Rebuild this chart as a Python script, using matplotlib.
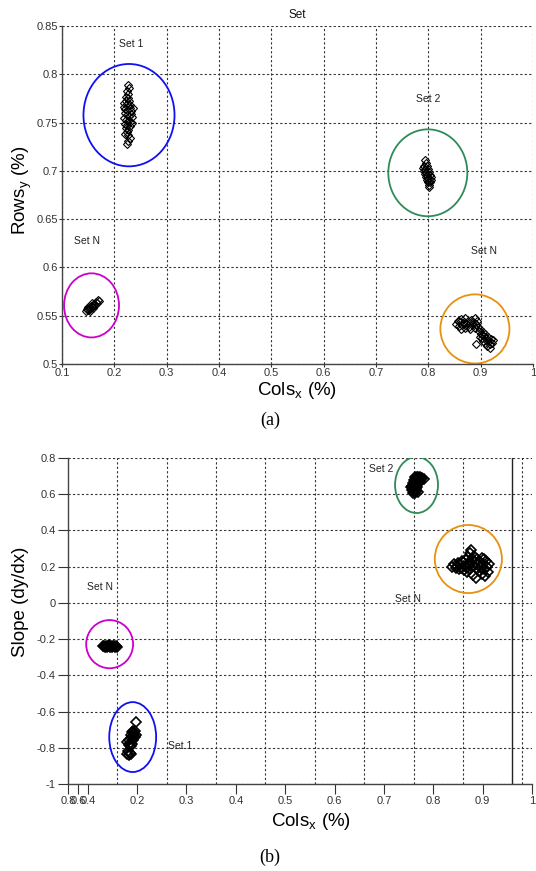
import matplotlib
matplotlib.use("Agg")
import matplotlib.pyplot as plt
from matplotlib.patches import Ellipse

plt.rcParams['font.family'] = ['Liberation Sans', 'DejaVu Sans']
plt.rcParams['mathtext.fontset'] = 'custom'
plt.rcParams['mathtext.rm'] = 'Liberation Sans'

# ---------------- Panel (a) data ----------------
a_set1_x = [0.226, 0.228, 0.225, 0.227, 0.223, 0.226, 0.222, 0.219, 0.224, 0.228, 0.230,
            0.218, 0.221, 0.225, 0.229, 0.232, 0.236, 0.220, 0.224, 0.228, 0.231, 0.234,
            0.219, 0.222, 0.226, 0.230, 0.233, 0.221, 0.225, 0.229, 0.223, 0.227, 0.224,
            0.221, 0.226, 0.229, 0.227, 0.225]
a_set1_y = [0.789, 0.786, 0.783, 0.780, 0.777, 0.775, 0.772, 0.770, 0.769, 0.772, 0.768,
            0.766, 0.764, 0.763, 0.765, 0.762, 0.765, 0.760, 0.758, 0.757, 0.759, 0.756,
            0.755, 0.753, 0.752, 0.751, 0.750, 0.749, 0.747, 0.746, 0.744, 0.742, 0.740,
            0.738, 0.737, 0.734, 0.731, 0.728]

a_set2_x = [0.793, 0.795, 0.792, 0.797, 0.794, 0.799, 0.791, 0.796, 0.801, 0.793, 0.798,
            0.803, 0.795, 0.800, 0.805, 0.797, 0.802, 0.799, 0.804, 0.801, 0.802, 0.790, 0.806]
a_set2_y = [0.711, 0.708, 0.705, 0.705, 0.702, 0.702, 0.700, 0.699, 0.699, 0.697, 0.696,
            0.696, 0.694, 0.693, 0.694, 0.691, 0.690, 0.688, 0.688, 0.685, 0.683, 0.703, 0.691]

a_setn_r_x = [0.853, 0.856, 0.858, 0.861, 0.863, 0.865, 0.868, 0.870, 0.872, 0.875, 0.877,
              0.879, 0.882, 0.884, 0.886, 0.889, 0.891, 0.893, 0.880, 0.871, 0.862,
              0.890, 0.894, 0.896, 0.899, 0.901, 0.904, 0.906, 0.903, 0.908, 0.910, 0.912,
              0.909, 0.914, 0.916, 0.918, 0.920, 0.922, 0.924, 0.913, 0.917, 0.892, 0.898, 0.905]
a_setn_r_y = [0.541, 0.545, 0.539, 0.543, 0.547, 0.540, 0.544, 0.548, 0.541, 0.545, 0.538,
              0.542, 0.546, 0.540, 0.544, 0.548, 0.541, 0.545, 0.536, 0.537, 0.536,
              0.537, 0.538, 0.534, 0.536, 0.531, 0.533, 0.529, 0.527, 0.531, 0.527, 0.524,
              0.522, 0.528, 0.524, 0.521, 0.526, 0.522, 0.525, 0.519, 0.517, 0.521, 0.528, 0.524]

a_setn_l_x = [0.146, 0.148, 0.150, 0.152, 0.149, 0.154, 0.155, 0.157, 0.159, 0.158, 0.161,
              0.163, 0.164, 0.166, 0.168, 0.170, 0.153, 0.160]
a_setn_l_y = [0.555, 0.557, 0.556, 0.558, 0.559, 0.557, 0.560, 0.559, 0.561, 0.563, 0.562,
              0.561, 0.564, 0.563, 0.566, 0.565, 0.555, 0.558]

# ellipses (cx, cy, width, height)
a_circles = [(0.228, 0.7577, 0.174, 0.106, '#1010F0'),
             (0.799, 0.698, 0.151, 0.090, '#2E8B57'),
             (0.889, 0.5363, 0.132, 0.0716, '#E8900F'),
             (0.1564, 0.5607, 0.105, 0.0664, '#CC00CC')]
a_labels = [(0.232, 0.831, 'Set 1'), (0.800, 0.774, 'Set 2'),
            (0.148, 0.627, 'Set N'), (0.907, 0.617, 'Set N')]
a_xticks = [0.1, 0.2, 0.3, 0.4, 0.5, 0.6, 0.7, 0.8, 0.9, 1.0]
a_xticklabels = ['0.1', '0.2', '0.3', '0.4', '0.5', '0.6', '0.7', '0.8', '0.9', '1']
a_yticks = [0.5, 0.55, 0.6, 0.65, 0.7, 0.75, 0.8, 0.85]
a_yticklabels = ['0.5', '0.55', '0.6', '0.65', '0.7', '0.75', '0.8', '0.85']

# ---------------- Panel (b) data ----------------
b_set2_x = [0.762, 0.766, 0.770, 0.774, 0.778, 0.781, 0.764, 0.768, 0.772, 0.776, 0.760,
            0.765, 0.769, 0.773, 0.762, 0.767, 0.771, 0.758, 0.763, 0.768, 0.756, 0.761,
            0.766, 0.754, 0.759, 0.764, 0.756, 0.761, 0.765, 0.758, 0.763, 0.768]
b_set2_y = [0.694, 0.697, 0.695, 0.693, 0.690, 0.686, 0.688, 0.685, 0.688, 0.684, 0.680,
            0.676, 0.678, 0.675, 0.670, 0.667, 0.665, 0.660, 0.657, 0.654, 0.648, 0.645,
            0.641, 0.637, 0.632, 0.628, 0.622, 0.616, 0.620, 0.609, 0.605, 0.612]

b_setn_r_x = [0.838, 0.842, 0.845, 0.848, 0.850, 0.852, 0.855, 0.857, 0.860, 0.862, 0.864,
              0.866, 0.868, 0.870, 0.872, 0.874, 0.876, 0.878, 0.875, 0.880, 0.882, 0.884,
              0.886, 0.888, 0.890, 0.892, 0.894, 0.896, 0.898, 0.900, 0.902, 0.904, 0.906,
              0.908, 0.910, 0.912, 0.899, 0.880, 0.886, 0.868, 0.858, 0.903]
b_setn_r_y = [0.200, 0.215, 0.190, 0.205, 0.222, 0.185, 0.210, 0.195, 0.225, 0.180, 0.205,
              0.235, 0.192, 0.255, 0.215, 0.275, 0.290, 0.240, 0.185, 0.205, 0.260, 0.225,
              0.190, 0.240, 0.210, 0.175, 0.225, 0.195, 0.160, 0.215, 0.185, 0.150, 0.230,
              0.200, 0.170, 0.215, 0.245, 0.155, 0.140, 0.170, 0.230, 0.240]

b_setn_l_x = [0.130, 0.133, 0.135, 0.137, 0.139, 0.141, 0.143, 0.145, 0.147, 0.149, 0.151,
              0.153, 0.155, 0.157, 0.159]
b_setn_l_y = [-0.240, -0.236, -0.244, -0.238, -0.246, -0.240, -0.235, -0.243, -0.238,
              -0.245, -0.239, -0.236, -0.243, -0.239, -0.242]

b_set1_x = [0.197, 0.192, 0.196, 0.189, 0.194, 0.198, 0.187, 0.191, 0.195, 0.188, 0.192,
            0.184, 0.180, 0.186, 0.190, 0.183, 0.188, 0.181, 0.185, 0.179, 0.183, 0.187]
b_set1_y = [-0.660, -0.705, -0.710, -0.715, -0.722, -0.728, -0.730, -0.737, -0.742, -0.748,
            -0.755, -0.758, -0.768, -0.772, -0.778, -0.785, -0.790, -0.820, -0.827, -0.833,
            -0.840, -0.835]

b_circles = [(0.766, 0.651, 0.087, 0.310, '#2E8B57'),
             (0.871, 0.242, 0.136, 0.376, '#E8900F'),
             (0.1443, -0.228, 0.095, 0.266, '#CC00CC'),
             (0.191, -0.741, 0.095, 0.386, '#1010F0')]
b_labels = [(0.694, 0.739, 'Set 2'), (0.749, 0.021, 'Set N'),
            (0.125, 0.087, 'Set N'), (0.287, -0.791, 'Set 1')]
b_xticks = [0.06, 0.08, 0.10, 0.2, 0.3, 0.4, 0.5, 0.6, 0.7, 0.8, 0.9, 1.0]
b_xticklabels = ['0.8', '0.6', '0.4', '0.2', '0.3', '0.4', '0.5', '0.6', '0.7', '0.8', '0.9', '1']
b_yticks = [-1, -0.8, -0.6, -0.4, -0.2, 0, 0.2, 0.4, 0.6, 0.8]
b_yticklabels = ['-1', '-0.8', '-0.6', '-0.4', '-0.2', '0', '0.2', '0.4', '0.6', '0.8']
b_vgrid_dotted = [0.16, 0.26, 0.36, 0.46, 0.56, 0.66, 0.76, 0.86, 0.98]
b_vgrid_solid = [0.96]

GRID = dict(color='#333333', linestyle=(0, (2, 2)), linewidth=0.8)
TICKC = '#333333'

fig = plt.figure(figsize=(5.36, 8.71), dpi=100)

# ---------------- Panel (a) ----------------
ax1 = fig.add_axes([0.1157, 0.5821, 0.8787, 0.388])
ax1.set_xlim(0.1, 1.0)
ax1.set_ylim(0.5, 0.85)
ax1.set_xticks(a_xticks)
ax1.set_xticklabels(a_xticklabels)
ax1.set_yticks(a_yticks)
ax1.set_yticklabels(a_yticklabels)
ax1.grid(True, **GRID)
ax1.set_axisbelow(True)
for s in ['top', 'right']:
    ax1.spines[s].set_visible(False)
for s in ['left', 'bottom']:
    ax1.spines[s].set_color('#444444')
    ax1.spines[s].set_linewidth(1.0)
ax1.tick_params(direction='out', length=2, width=0.8, colors=TICKC, labelsize=8, pad=1)

for xs, ys in [(a_set1_x, a_set1_y), (a_set2_x, a_set2_y),
               (a_setn_r_x, a_setn_r_y), (a_setn_l_x, a_setn_l_y)]:
    ax1.plot(xs, ys, linestyle='none', marker='D', markersize=4.2, mfc='none',
             mec='black', mew=0.8)
for cx, cy, w, h, c in a_circles:
    ax1.add_patch(Ellipse((cx, cy), w, h, fill=False, edgecolor=c, linewidth=1.3))
for x, y, t in a_labels:
    ax1.text(x, y, t, fontsize=7.5, color='#222222', ha='center', va='center')

ax1.set_title('Set', fontsize=8.5, pad=6, color='#111111')
ax1.set_xlabel(r'Cols$_\mathregular{x}$ (%)', fontsize=13.5)
ax1.set_ylabel(r'Rows$_\mathregular{y}$ (%)', fontsize=13.5)
ax1.xaxis.set_label_coords(0.5, -0.046)
ax1.yaxis.set_label_coords(-0.06, 0.515)
fig.text(0.504, 1 - 420 / 871, '(a)', fontsize=13, family='Liberation Serif',
         ha='center', va='center')

# ---------------- Panel (b) ----------------
ax2 = fig.add_axes([0.1269, 0.0999, 0.8657, 0.3743])
ax2.set_xlim(0.06, 1.0)
ax2.set_ylim(-1.0, 0.8)
ax2.set_xticks(b_xticks)
ax2.set_xticklabels(b_xticklabels)
ax2.set_yticks(b_yticks)
ax2.set_yticklabels(b_yticklabels)
ax2.grid(True, axis='y', **GRID)
for xv in b_vgrid_dotted:
    ax2.axvline(xv, zorder=0.5, **GRID)
for xv in b_vgrid_solid:
    ax2.axvline(xv, color='#222222', linewidth=1.0, zorder=0.5)
ax2.set_axisbelow(True)
for s in ['top', 'right']:
    ax2.spines[s].set_visible(False)
for s in ['left', 'bottom']:
    ax2.spines[s].set_color('#444444')
    ax2.spines[s].set_linewidth(1.0)
ax2.tick_params(direction='out', length=7, width=0.8, colors=TICKC, labelsize=8, pad=2)

for xs, ys in [(b_set2_x, b_set2_y), (b_setn_r_x, b_setn_r_y),
               (b_setn_l_x, b_setn_l_y), (b_set1_x, b_set1_y)]:
    ax2.plot(xs, ys, linestyle='none', marker='D', markersize=4.8, mfc='none',
             mec='black', mew=1.2)
for cx, cy, w, h, c in b_circles:
    ax2.add_patch(Ellipse((cx, cy), w, h, fill=False, edgecolor=c, linewidth=1.3))
for x, y, t in b_labels:
    ax2.text(x, y, t, fontsize=7.5, color='#222222', ha='center', va='center')

ax2.set_xlabel(r'Cols$_\mathregular{x}$ (%)', fontsize=13.5)
ax2.set_ylabel('Slope (dy/dx)', fontsize=13.5)
ax2.xaxis.set_label_coords(0.524, -0.082)
ax2.yaxis.set_label_coords(-0.085, 0.56)
fig.text(0.504, 1 - 857 / 871, '(b)', fontsize=13, family='Liberation Serif',
         ha='center', va='center')

fig.savefig('out.png', dpi=100)
